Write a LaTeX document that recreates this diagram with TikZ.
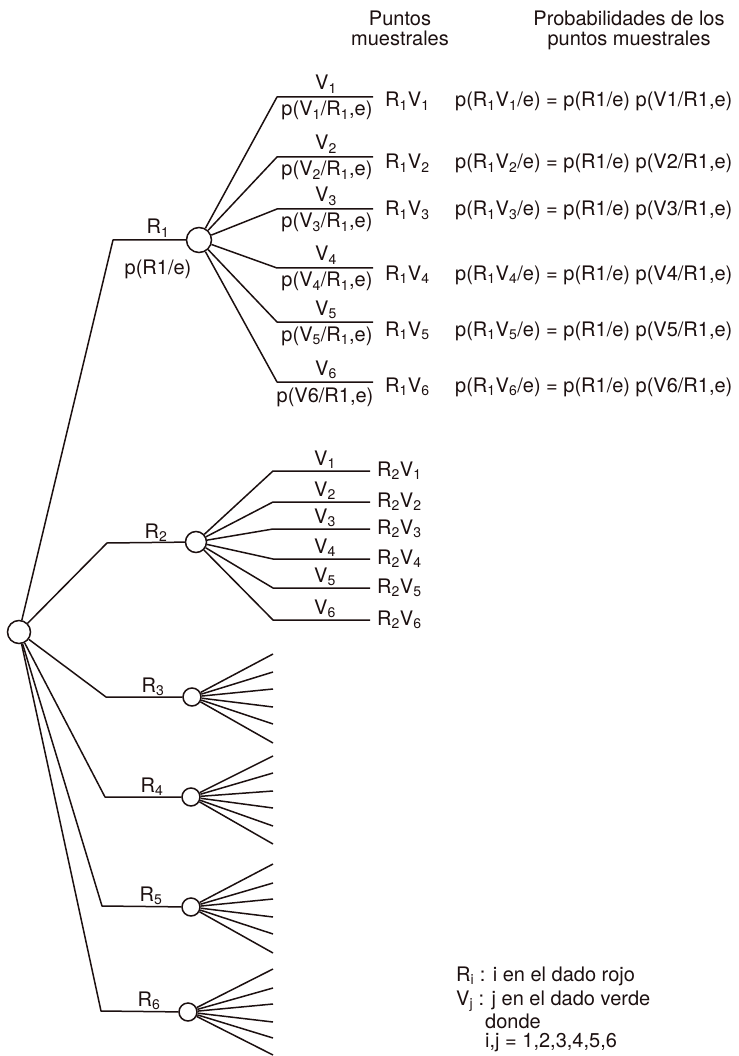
\documentclass[tikz,border=0pt]{standalone}
\usepackage{fontspec}
\setmainfont{TeX Gyre Heros}
\newcommand\sbs[1]{\textsubscript{#1}}
\definecolor{ink}{RGB}{28,16,16}
\begin{document}
\begin{tikzpicture}[x=1pt,y=-1pt,
  ln/.style={draw=ink, line width=1.5pt, line join=round},
  dot/.style={circle, draw=ink, line width=1.5pt, fill=white, inner sep=0pt},
  txt/.style={inner sep=0pt, font=\fontsize{20}{23}\selectfont, text=ink},
]
\useasboundingbox (0,0) rectangle (738,1056);

% column headings
\node[txt, anchor=base] (h1a) at (400,26) {Puntos};
\node[txt, anchor=base] (h1b) at (400,46) {muestrales};
\node[txt, anchor=base] (h2a) at (629,26) {Probabilidades de los};
\node[txt, anchor=base] (h2b) at (629,46) {puntos muestrales};

% root of the tree
\node[dot, minimum size=23pt] (root) at (19,632) {};

% ---- first branch: R1 ----
\coordinate (b1) at (113,240);
\node[dot, minimum size=25pt] (c1) at (199,240) {};
\draw[ln] (root) -- (b1) -- (c1);
\node[txt, anchor=base] (r1) at (158,234) {R\sbs1};
\node[txt, anchor=base] (pr1) at (158,275) {p(R1/e)};

\foreach \i/\y/\ly in {1/97/107,2/157/169,3/209/216,4/268/280,5/322/336,6/382/392}{
  \coordinate (k1\i) at (277,\y);
  \coordinate (t1\i) at (373,\y);
  \draw[ln] (c1) -- (k1\i) -- (t1\i);
  \node[txt, anchor=base] (v1\i) at (326,\y-7) {V\sbs{\i}};
  \node[txt, anchor=base west] (s1\i) at (385,\ly) {R\sbs1V\sbs{\i}};
  \node[txt, anchor=base west] (f1\i) at (455,\ly) {p(R\sbs1V\sbs{\i}/e) = p(R1/e) p(V\i/R1,e)};
}
\node[txt, anchor=base] (p11) at (327,116) {p(V\sbs1/R\sbs1,e)};
\node[txt, anchor=base] (p12) at (327,176) {p(V\sbs2/R\sbs1,e)};
\node[txt, anchor=base] (p13) at (327,228) {p(V\sbs3/R\sbs1,e)};
\node[txt, anchor=base] (p14) at (327,287) {p(V\sbs4/R\sbs1,e)};
\node[txt, anchor=base] (p15) at (327,341) {p(V\sbs5/R\sbs1,e)};
\node[txt, anchor=base] (p16) at (325,402) {p(V6/R1,e)};

% ---- second branch: R2 ----
\coordinate (b2) at (107,543);
\node[dot, minimum size=21pt] (c2) at (196,542) {};
\draw[ln] (root) -- (b2) -- (c2);
\node[txt, anchor=base] (r2) at (156,538) {R\sbs2};
\foreach \i/\y in {1/471,2/502,3/529,4/559,5/588,6/620}{
  \coordinate (k2\i) at (273,\y);
  \coordinate (t2\i) at (370,\y);
  \draw[ln] (c2) -- (k2\i) -- (t2\i);
  \node[txt, anchor=base] (v2\i) at (325,\y-6) {V\sbs{\i}};
  \node[txt, anchor=base west] (s2\i) at (377,\y+5) {R\sbs2V\sbs{\i}};
}

% ---- remaining branches R3 .. R6, drawn as bare fans ----
\foreach \n/\bx/\by/\cx/\cy/\lx/\ya/\yb/\yc/\yd/\ye/\yf in {
  3/106/697/192/697/153/654/672/689/707/724/743,
  4/105/797/191/797/152/756/773/791/808/826/844,
  5/102/906/191/907/151/864/883/899/917/934/953,
  6/101/1011/188/1012/149/969/988/1004/1022/1038/1055}{
  \coordinate (b\n) at (\bx,\by);
  \node[dot, minimum size=18pt] (c\n) at (\cx,\cy) {};
  \draw[ln] (root) -- (b\n) -- (c\n);
  \node[txt, anchor=base] (r\n) at (\lx,\by-5) {R\sbs{\n}};
  \foreach \j/\yy in {1/\ya,2/\yb,3/\yc,4/\yd,5/\ye,6/\yf}{
    \coordinate (t\n\j) at (273,\yy);
    \draw[ln] (c\n) -- (t\n\j);
  }
}

% legend
\node[txt, anchor=base west] (l1) at (456,981) {R\sbs{i} : i en el dado rojo};
\node[txt, anchor=base west] (l2) at (456,1005) {V\sbs{j} : j en el dado verde};
\node[txt, anchor=base west] (l3) at (485,1028) {donde};
\node[txt, anchor=base west] (l4) at (485,1047) {i,j = 1,2,3,4,5,6};
\end{tikzpicture}
\end{document}
